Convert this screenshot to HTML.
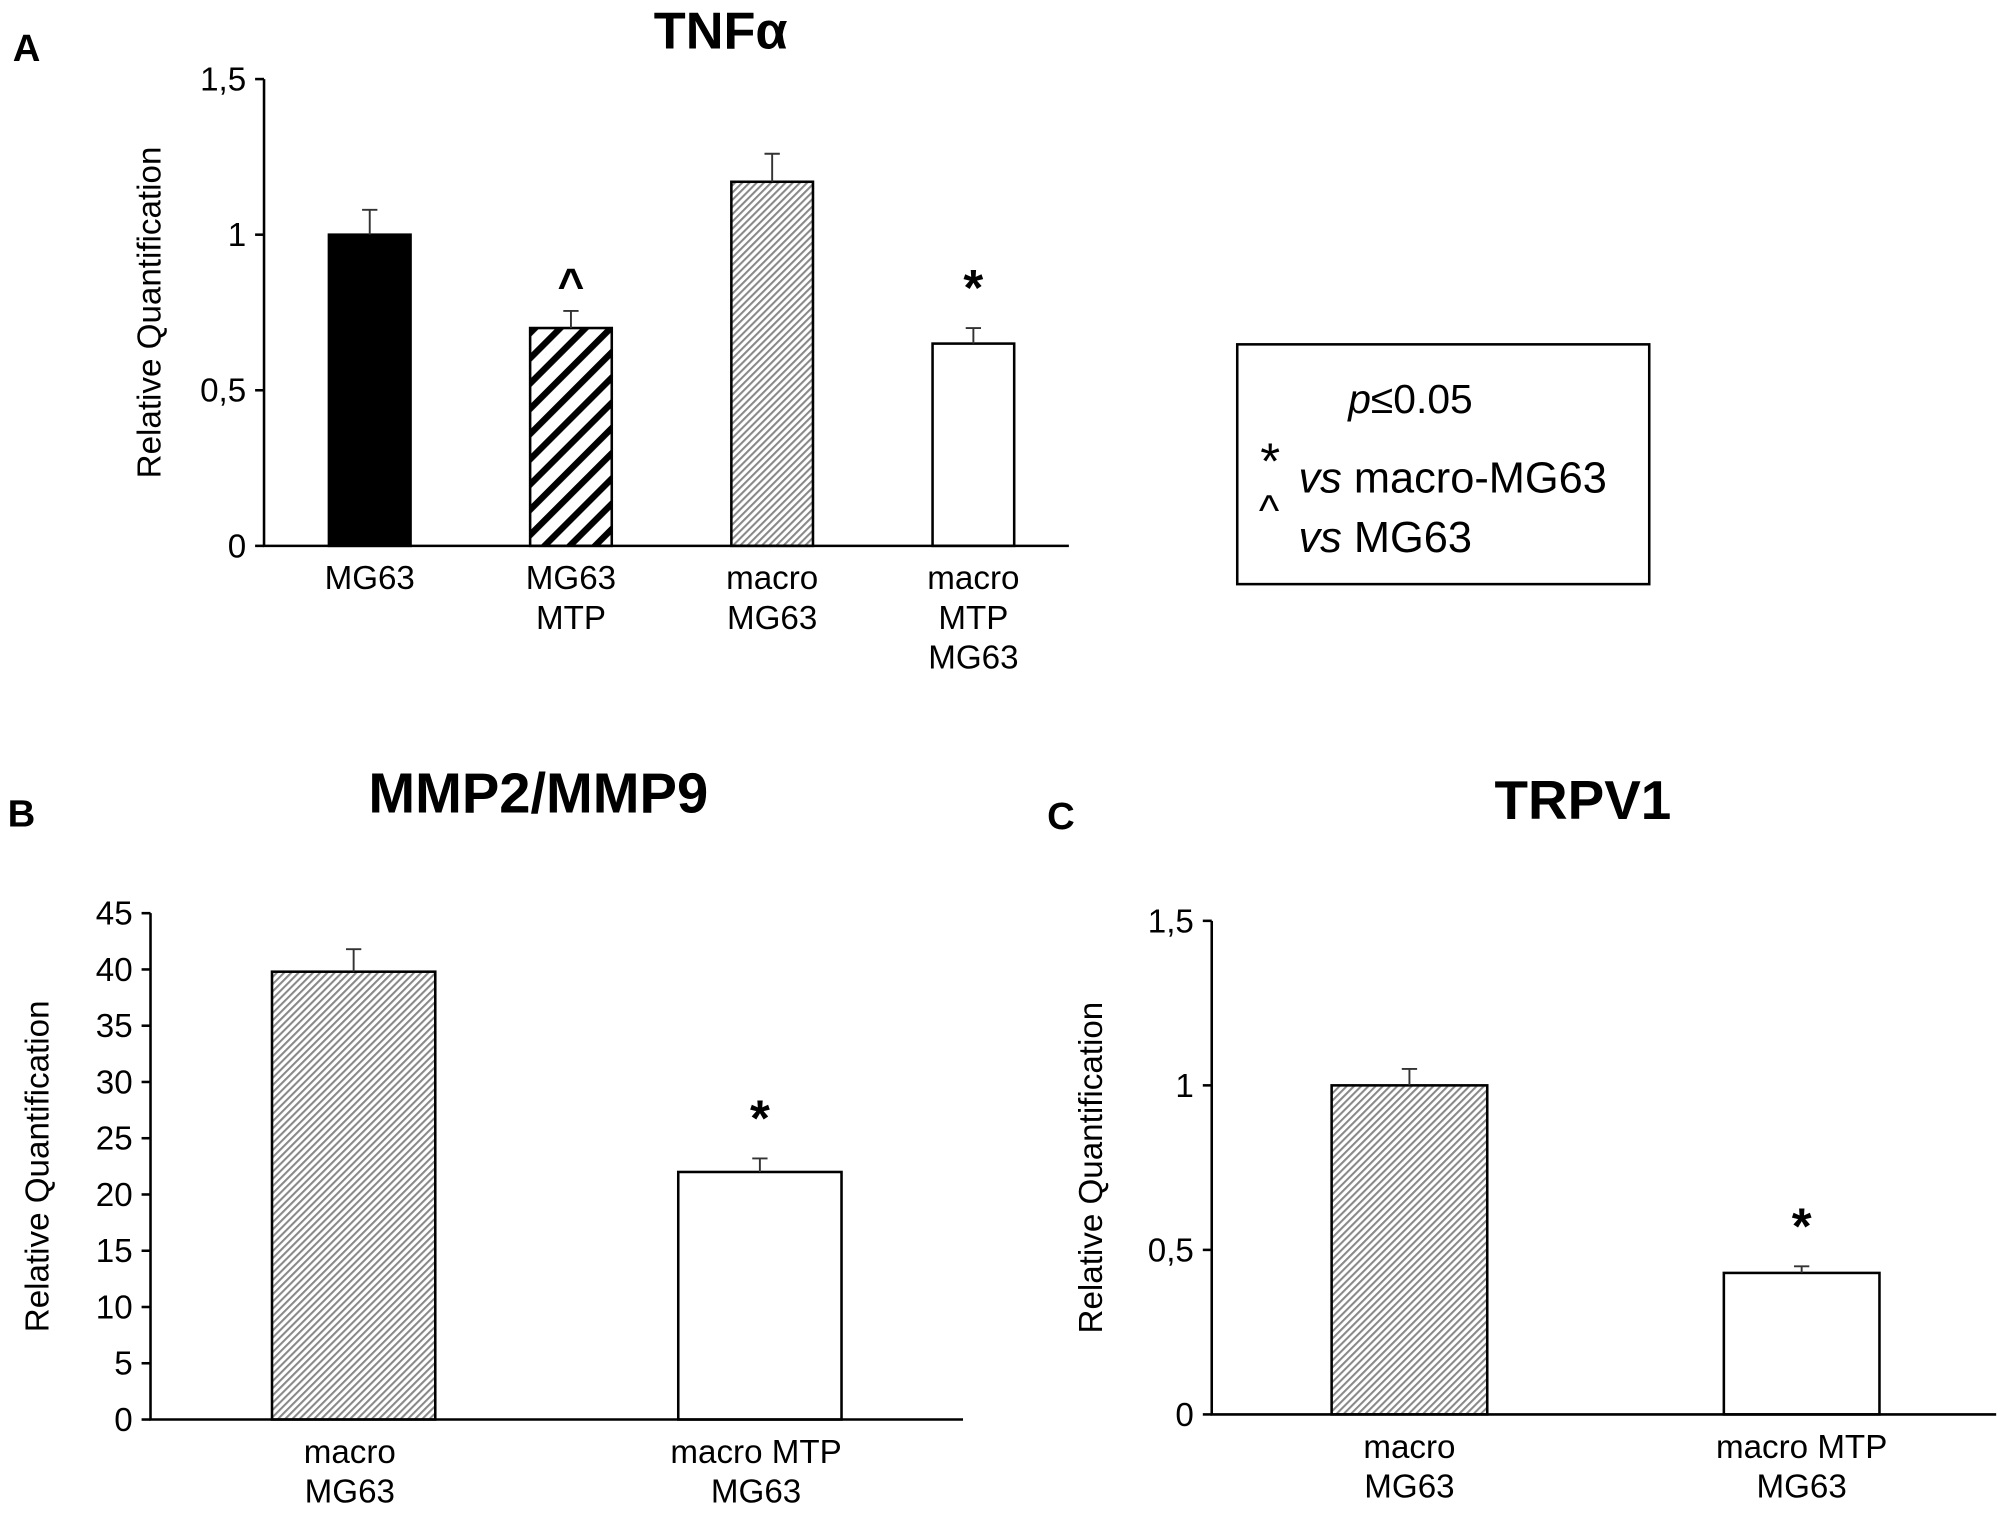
<!DOCTYPE html>
<html><head><meta charset="utf-8"><style>
html,body{margin:0;padding:0;background:#fff}
svg{display:block;font-family:"Liberation Sans",Arial,sans-serif}
</style></head><body>
<svg id="fig" width="2000" height="1519" viewBox="0 0 1568 1191" preserveAspectRatio="none" xmlns="http://www.w3.org/2000/svg">
<defs>
<pattern id="bold" patternUnits="userSpaceOnUse" width="14" height="14" patternTransform="rotate(45)">
<rect width="14" height="14" fill="#fff"/><rect width="5" height="14" fill="#000"/></pattern>
<pattern id="light" patternUnits="userSpaceOnUse" width="4" height="4" patternTransform="rotate(45)">
<rect width="4" height="4" fill="#fff"/><rect width="1.6" height="4" fill="#888"/></pattern>
</defs>
<text x="10" y="48" font-size="30" font-weight="bold">A</text>
<text x="6" y="648" font-size="30" font-weight="bold">B</text>
<text x="821" y="650" font-size="30" font-weight="bold">C</text>
<text x="565" y="38" font-size="41" font-weight="bold" text-anchor="middle">TNFα</text>
<text x="422" y="637" font-size="44" font-weight="bold" text-anchor="middle">MMP2/MMP9</text>
<text x="1241" y="642" font-size="43" font-weight="bold" text-anchor="middle">TRPV1</text>
<g>
<rect x="970" y="270" width="323" height="188" fill="none" stroke="#000" stroke-width="2"/>
<text x="1057" y="324" font-size="32"><tspan font-style="italic">p</tspan>≤0.05</text>
<text x="988" y="375" font-size="40">*</text>
<text x="1018" y="386" font-size="34"><tspan font-style="italic">vs</tspan>  macro-MG63</text>
<text x="987" y="412" font-size="34">^</text>
<text x="1018" y="433" font-size="34"><tspan font-style="italic">vs</tspan> MG63</text>
</g>
<g id="charts"></g>
</svg>
<script>
// Panel A
const catsA = [["MG63"],["MG63","MTP"],["macro","MG63"],["macro","MTP","MG63"]];
const valsA = [1.0, 0.70, 1.17, 0.65];
const errsA = [0.08, 0.055, 0.09, 0.05];
const fillsA = ["#000","url(#bold)","url(#light)","#fff"];
const marksA = ["", "^", "", "*"];
const ticksA = ["0","0,5","1","1,5"];
const tickValsA = [0,0.5,1,1.5];
// Panel B
const catsB = [["macro","MG63"],["macro MTP","MG63"]];
const valsB = [39.8, 22.0];
const errsB = [2.0, 1.2];
const fillsB = ["url(#light)","#fff"];
const marksB = ["", "*"];
const tickValsB = [0,5,10,15,20,25,30,35,40,45];
const ticksB = ["0","5","10","15","20","25","30","35","40","45"];
// Panel C
const catsC = [["macro","MG63"],["macro MTP","MG63"]];
const valsC = [1.0, 0.43];
const errsC = [0.05, 0.02];
const fillsC = ["url(#light)","#fff"];
const marksC = ["", "*"];
const tickValsC = [0,0.5,1,1.5];
const ticksC = ["0","0,5","1","1,5"];

const NS="http://www.w3.org/2000/svg";
const root=document.getElementById('charts');
function mk(tag,attrs,parent){const e=document.createElementNS(NS,tag);for(const k in attrs)e.setAttribute(k,attrs[k]);(parent||root).appendChild(e);return e;}

function panel(p){
  const g=mk('g',{});
  
  
  const y=v=>p.y0-(v/p.max)*(p.y0-p.y1);
  const n=p.cats.length, step=(p.xEnd-p.x0)/n;
  const cx=i=>p.x0+step*(i+0.5)+p.shift;
  p.vals.forEach((v,i)=>{
    const r=mk('rect',{x:cx(i)-p.bw/2,y:y(v),width:p.bw,height:p.y0-y(v),fill:p.fills[i],stroke:'#000','stroke-width':2},g);
    
    
    const ye=y(v+p.errs[i]);
    const eb=mk('path',{d:`M${cx(i)} ${y(v)}V${ye}M${cx(i)-6} ${ye}H${cx(i)+6}`,stroke:'#333','stroke-width':1.5,fill:'none'},g);
    
    
    if(p.marks[i]){
      const isCaret=p.marks[i]=='^';
      const t=mk('text',{x:cx(i),y:isCaret?ye-8:ye-18,'font-size':isCaret?36:40,'font-weight':'bold','text-anchor':'middle'},g);
      t.textContent=p.marks[i];
      
      
    }
    p.cats[i].forEach((line,j)=>{
      const t=mk('text',{x:cx(i)+(p.labShift||0),y:p.y0+34+j*p.lh,'font-size':26,'text-anchor':'middle'},g);
      t.textContent=line;
      
      
    });
  });
  const ax=mk('path',{d:`M${p.x0} ${p.y1}V${p.y0}H${p.xEnd}`,stroke:'#000','stroke-width':2,fill:'none'},g);
  
  
  p.tickVals.forEach((tv,i)=>{
    mk('line',{x1:p.x0-7,x2:p.x0,y1:y(tv),y2:y(tv),stroke:'#000','stroke-width':2},g);
    const t=mk('text',{x:p.x0-14,y:y(tv)+9,'font-size':26,'text-anchor':'end'},g);
    t.textContent=p.ticks[i];
    
    
  });
  const yt=mk('text',{x:0,y:0,'font-size':26,'text-anchor':'middle',transform:`translate(${p.ytx},${(p.y0+p.y1)/2}) rotate(-90)`},g);
  yt.textContent='Relative Quantification';
  
  
}
panel({name:'tnf-chart',cats:catsA,vals:valsA,errs:errsA,fills:fillsA,marks:marksA,ticks:ticksA,tickVals:tickValsA,max:1.5,x0:207,xEnd:838,y0:428,y1:62,bw:64,shift:4,lh:31,ytx:126,labShift:0});
panel({name:'mmp-chart',cats:catsB,vals:valsB,errs:errsB,fills:fillsB,marks:marksB,ticks:ticksB,tickVals:tickValsB,max:45,x0:118,xEnd:755,y0:1113,y1:716,bw:128,shift:0,lh:31,ytx:38,labShift:-3});
panel({name:'trpv1-chart',cats:catsC,vals:valsC,errs:errsC,fills:fillsC,marks:marksC,ticks:ticksC,tickVals:tickValsC,max:1.5,x0:950,xEnd:1565,y0:1109,y1:722,bw:122,shift:1.25,lh:31,ytx:864,labShift:0});
</script>
</body></html>
